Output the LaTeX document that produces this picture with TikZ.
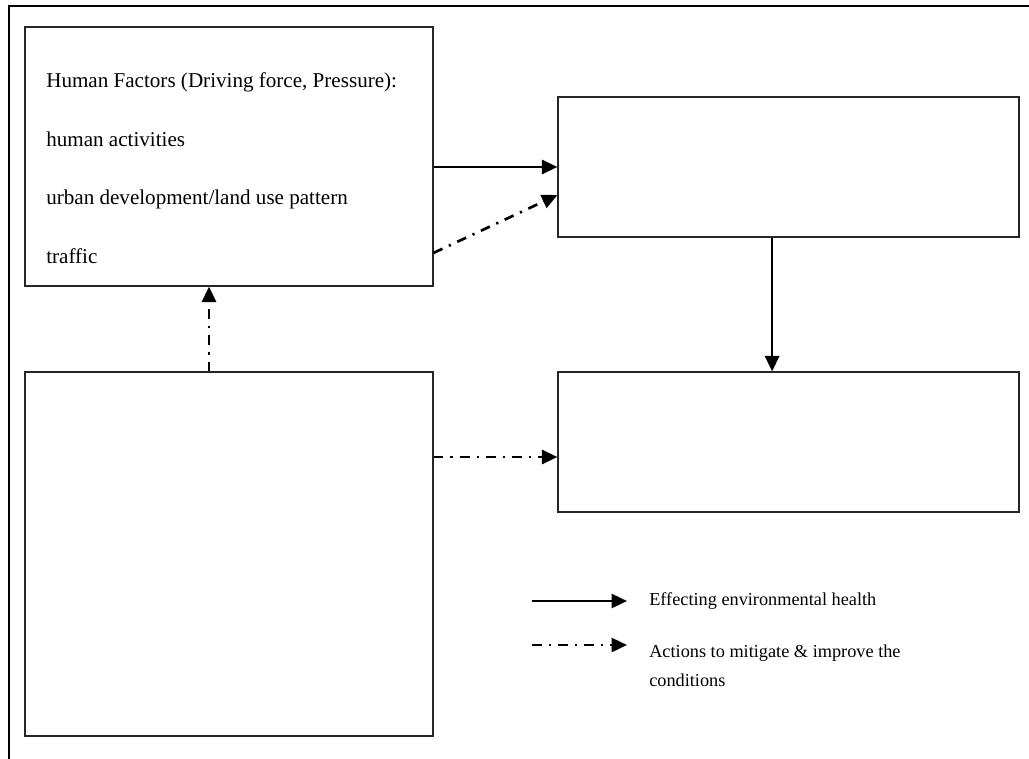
\documentclass[tikz,border=0pt]{standalone}
\usepackage{fontspec}
\setmainfont{Liberation Serif}
\usetikzlibrary{arrows.meta, positioning, calc}

\begin{document}
\begin{tikzpicture}[
    box/.style={rectangle, draw=black!85, line width=0.8pt, inner sep=0pt},
    effect/.style={-{Triangle[length=11pt, width=10pt]}, line width=1.9pt},
    act/.style={-{Triangle[length=11pt, width=10pt]}, line width=1.9pt,
                dash pattern=on 7pt off 5pt on 1.6pt off 5pt},
    txt/.style={font=\fontsize{15}{41.7}\selectfont, inner sep=0pt, align=left},
    legtext/.style={font=\fontsize{13}{20}\selectfont, inner sep=0pt, align=left, anchor=west}
]
\useasboundingbox (0,0) rectangle (25.725,-18.975);

% open outer frame
\draw[line width=1.4pt] (0.225,-18.975) -- (0.225,-0.15) -- (25.725,-0.15);

% Boxes
\node[box, minimum width=10.2cm, minimum height=6.475cm] (hum) at (5.725,-3.9125) {};
\node[box, minimum width=11.525cm, minimum height=3.5cm] (state) at (19.7125,-4.175) {};
\node[box, minimum width=10.2cm, minimum height=9.1cm] (resp) at (5.725,-13.85) {};
\node[box, minimum width=11.525cm, minimum height=3.5cm] (impact) at (19.7125,-11.05) {};

% Text of the human factors box
\node[txt, anchor=north west] (humtxt) at (1.15,-1.81)
    {Human Factors (Driving force, Pressure):\\
     human activities\\
     urban development/land use pattern\\
     traffic};

% Connectors
\draw[effect] (hum.east |- state.west) -- (state.west);
\draw[act] ([yshift=-2.41cm]hum.east) -- ([yshift=-0.7cm]state.west);
\draw[effect] ([xshift=-0.41cm]state.south) -- ([xshift=-0.41cm]state.south |- impact.north);
\draw[act] ([xshift=-0.5cm]resp.north) -- ([xshift=-0.5cm]resp.north |- hum.south);
\coordinate (imp-in) at ([yshift=-0.375cm]impact.west);
\draw[act] (resp.east |- imp-in) -- (imp-in);

% Legend
\coordinate (leg1a) at (13.3,-15.025);
\coordinate (leg1b) at (15.675,-15.025);
\coordinate (leg2a) at (13.3,-16.125);
\coordinate (leg2b) at (15.675,-16.125);
\draw[effect] (leg1a) -- (leg1b);
\draw[act] (leg2a) -- (leg2b);
\node[legtext, right=0.55cm of leg1b] (leg1) {Effecting environmental health};
\node[legtext, anchor=north west] (leg2) at ([xshift=0.55cm, yshift=0cm]leg2b)
    {Actions to mitigate \& improve the\\conditions};
\end{tikzpicture}
\end{document}
